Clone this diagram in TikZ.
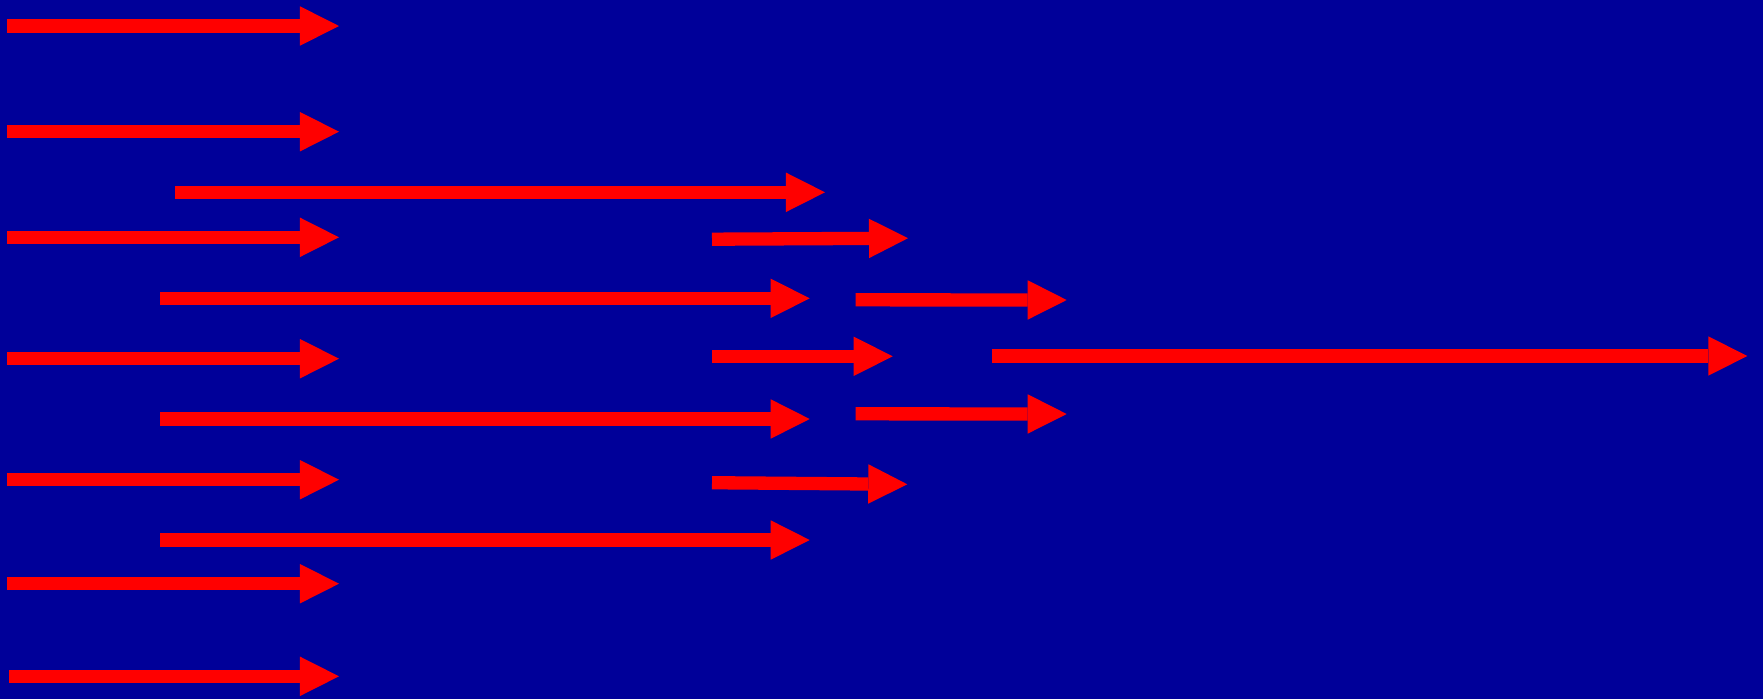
\documentclass[tikz,border=0pt]{standalone}
\usepackage{tikz}
\usetikzlibrary{arrows.meta}
\definecolor{deepblue}{RGB}{0,0,153}

\begin{document}
\begin{tikzpicture}[x=0.01cm, y=-0.01cm,
    flow/.style={draw=red, line width=0.133cm,
      -{Triangle[length=0.39cm, width=0.394cm, line width=0pt]}}]
    % background
    \fill[deepblue] (0,0) rectangle (1763,699);
    \useasboundingbox (0,0) rectangle (1763,699);

    % short arrows on the left
    \foreach \yy in {26, 131.7, 237.3, 358.7, 479.7, 583.7}
      \draw[flow] (7,\yy) -- (339,\yy);
    \draw[flow] (9,676.3) -- (339,676.3);

    % long arrows
    \draw[flow] (175.3,192.3) -- (825,192.3);
    \foreach \yy in {298.3, 419, 540}
      \draw[flow] (160.3,\yy) -- (809.7,\yy);

    % middle arrows
    \draw[flow] (712,239.2) -- (908,238.2);
    \draw[flow] (712,356.3) -- (892.7,356.3);
    \draw[flow] (712,482.7) -- (907.3,484.3);

    % right arrows
    \draw[flow] (855.7,299.8) -- (1066.7,300);
    \draw[flow] (855.7,413.8) -- (1066.7,414);

    % the big one
    \draw[flow] (991.7,356) -- (1747.3,356);
  \end{tikzpicture}
\end{document}
